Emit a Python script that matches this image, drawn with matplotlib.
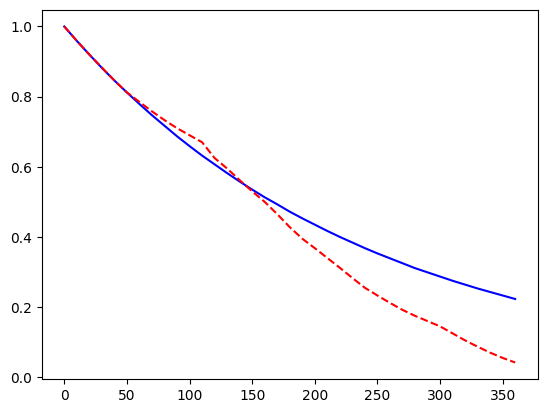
import matplotlib
matplotlib.use("Agg")
import matplotlib.pyplot as plt

t = list(range(0, 361, 10))
model = [1.0, .959, .920, .882, .846, .812, .779, .747, .717, .687, .659, .632,
         .607, .582, .558, .535, .513, .493, .472, .453, .435, .417, .400, .384,
         .368, .353, .339, .325, .311, .299, .287, .275, .264, .253, .243, .233, .223]
observed = [1.0, .959, .920, .883, .846, .812, .785, .758, .733, .710, .690, .670,
            .625, .595, .562, .530, .500, .465, .428, .395, .368, .340, .312, .283,
            .255, .233, .212, .192, .175, .160, .145, .125, .105, .087, .070, .055, .042]

fig, ax = plt.subplots(figsize=(6.4, 4.8), dpi=100)
ax.plot(t, model, color="blue", linestyle="-")
ax.plot(t, observed, color="red", linestyle="--")
fig.savefig("out.png", dpi=100, bbox_inches="tight")
